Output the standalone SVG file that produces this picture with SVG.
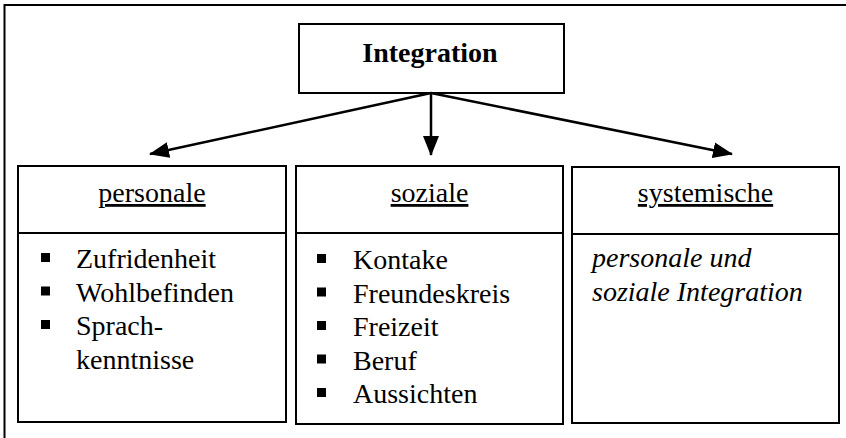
<svg xmlns="http://www.w3.org/2000/svg" width="846" height="438" viewBox="0 0 846 438">
<style>
.box{fill:#fff;stroke:#000;stroke-width:2}
.t{font-family:"Liberation Serif","Times New Roman",serif;font-size:28px;fill:#000}
.h{text-anchor:middle;text-decoration:underline}
.b{fill:#000}
.c{stroke:#000;stroke-width:2.5;fill:none}
</style>
<defs>
<marker id="ah" markerUnits="userSpaceOnUse" markerWidth="20" markerHeight="16" viewBox="0 0 20 16" refX="19" refY="8" orient="auto">
<path d="M0,0 L20,8 L0,16 Z" fill="#000"/>
</marker>
</defs>
<rect x="4.5" y="5" width="900" height="500" fill="#fff" stroke="#000" stroke-width="2"/>
<g id="integration">
<rect class="box" x="299" y="24" width="265" height="69"/>
<text class="t" x="430" y="62" text-anchor="middle" font-weight="bold">Integration</text>
</g>
<g id="connectors">
<line class="c" x1="431" y1="93" x2="150" y2="154" marker-end="url(#ah)"/>
<line class="c" x1="431" y1="93" x2="431" y2="155" marker-end="url(#ah)"/>
<line class="c" x1="431" y1="93" x2="732" y2="154" marker-end="url(#ah)"/>
</g>
<g id="personale">
<rect class="box" x="18" y="166" width="268" height="256"/>
<line stroke="#000" stroke-width="2" x1="18" y1="233" x2="286" y2="233"/>
<text class="t h" x="152" y="202">personale</text>
<rect class="b" x="41" y="253" width="9" height="9"/>
<rect class="b" x="41" y="286.5" width="9" height="9"/>
<rect class="b" x="41" y="320" width="9" height="9"/>
<text class="t" x="76" y="268">Zufridenheit</text>
<text class="t" x="76" y="301.5">Wohlbefinden</text>
<text class="t" x="76" y="335">Sprach-</text>
<text class="t" x="76" y="368.5">kenntnisse</text>
</g>
<g id="soziale">
<rect class="box" x="296" y="166" width="267" height="258"/>
<line stroke="#000" stroke-width="2" x1="296" y1="233" x2="563" y2="233"/>
<text class="t h" x="429.5" y="202">soziale</text>
<rect class="b" x="317" y="254" width="9" height="9"/>
<rect class="b" x="317" y="287.5" width="9" height="9"/>
<rect class="b" x="317" y="321" width="9" height="9"/>
<rect class="b" x="317" y="354.5" width="9" height="9"/>
<rect class="b" x="317" y="388" width="9" height="9"/>
<text class="t" x="353" y="269">Kontake</text>
<text class="t" x="353" y="302.5">Freundeskreis</text>
<text class="t" x="353" y="336">Freizeit</text>
<text class="t" x="353" y="369.5">Beruf</text>
<text class="t" x="353" y="403">Aussichten</text>
</g>
<g id="systemische">
<rect class="box" x="572" y="167" width="267" height="256"/>
<line stroke="#000" stroke-width="2" x1="572" y1="234" x2="839" y2="234"/>
<text class="t h" x="705.5" y="202">systemische</text>
<text class="t" x="592" y="267" font-style="italic">personale und</text>
<text class="t" x="592" y="300.5" font-style="italic">soziale Integration</text>
</g>
</svg>
